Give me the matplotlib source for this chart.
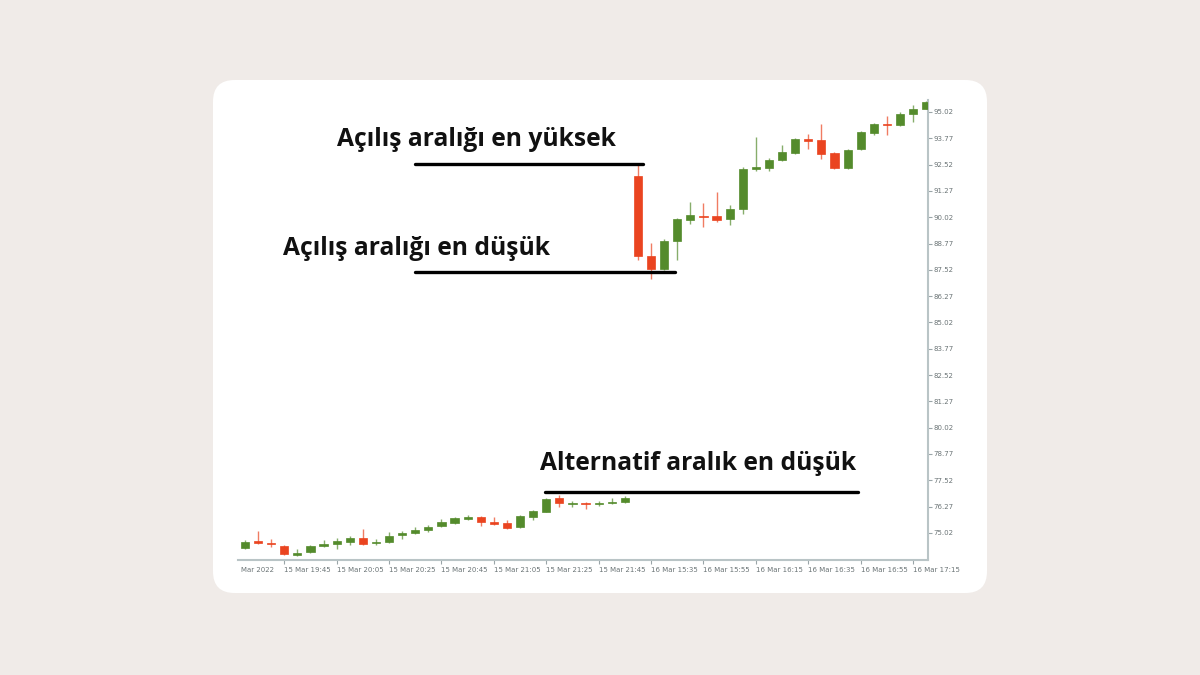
import matplotlib
matplotlib.use("Agg")
import matplotlib.pyplot as plt
from matplotlib.patches import FancyBboxPatch

# OHLC values (one candle per bar, in order)
opens = [74.29, 74.61, 74.52, 74.41, 73.98, 74.09, 74.41, 74.47, 74.60, 74.76,
         74.53, 74.57, 74.92, 75.01, 75.15, 75.36, 75.50, 75.66, 75.76, 75.55,
         75.50, 75.30, 75.76, 75.99, 76.66, 76.39, 76.45, 76.39, 76.42, 76.47,
         91.99, 88.18, 87.56, 88.90, 89.89, 90.09, 90.08, 89.92, 90.40, 92.30,
         92.37, 92.72, 93.09, 93.74, 93.69, 93.06, 92.37, 93.25, 94.01, 94.46,
         94.40, 94.94, 95.16]
highs = [74.68, 75.12, 74.71, 74.43, 74.25, 74.46, 74.68, 74.79, 74.88, 75.19,
         74.71, 75.04, 75.12, 75.31, 75.39, 75.66, 75.79, 75.87, 75.82, 75.79,
         75.63, 75.86, 76.10, 76.69, 76.82, 76.55, 76.50, 76.55, 76.66, 76.77,
         92.50, 88.78, 88.98, 89.98, 90.76, 90.71, 91.20, 90.60, 92.39, 93.85,
         92.82, 93.45, 93.80, 93.96, 94.44, 93.13, 93.28, 94.10, 94.50, 94.84,
         95.03, 95.35, 95.55]
lows = [74.25, 74.51, 74.36, 73.98, 73.93, 74.05, 74.37, 74.25, 74.44, 74.45,
        74.44, 74.52, 74.71, 74.97, 75.08, 75.30, 75.45, 75.61, 75.36, 75.41,
        75.21, 75.27, 75.64, 76.00, 76.23, 76.26, 76.15, 76.31, 76.38, 76.44,
        87.99, 87.08, 87.52, 87.99, 89.70, 89.57, 89.79, 89.65, 90.16, 92.22,
        92.22, 92.68, 93.01, 93.25, 92.79, 92.33, 92.33, 93.21, 93.93, 93.93,
        94.37, 94.53, 95.14]
closes = [74.60, 74.56, 74.47, 74.01, 74.03, 74.41, 74.47, 74.63, 74.77, 74.47,
          74.60, 74.88, 75.00, 75.17, 75.31, 75.55, 75.71, 75.77, 75.55, 75.44,
          75.26, 75.83, 76.07, 76.61, 76.42, 76.45, 76.38, 76.45, 76.47, 76.69,
          88.19, 87.57, 88.89, 89.93, 90.12, 90.03, 89.89, 90.40, 92.30, 92.41,
          92.72, 93.10, 93.72, 93.64, 93.02, 92.37, 93.21, 94.05, 94.44, 94.39,
          94.94, 95.16, 95.48]

y_ticks = [75.02, 76.27, 77.52, 78.77, 80.02, 81.27, 82.52, 83.77, 85.02,
           86.27, 87.52, 88.77, 90.02, 91.27, 92.52, 93.77, 95.02]
x_tick_pos = [3, 7, 11, 15, 19, 23, 27, 31, 35, 39, 43, 47, 51]
x_tick_labels = ["15 Mar 19:45", "15 Mar 20:05", "15 Mar 20:25", "15 Mar 20:45",
                 "15 Mar 21:05", "15 Mar 21:25", "15 Mar 21:45", "16 Mar 15:35",
                 "16 Mar 15:55", "16 Mar 16:15", "16 Mar 16:35", "16 Mar 16:55",
                 "16 Mar 17:15"]

# annotation levels: price, start/end candle, label, text anchor
levels = [92.55, 87.42, 76.96]
level_spans = [(12.98, 30.38), (12.98, 32.82), (22.9, 46.8)]
level_texts = ["Açılış aralığı en yüksek", "Açılış aralığı en düşük",
               "Alternatif aralık en düşük"]
text_anchor = [(7.02, 93.40), (2.9, 88.22), (22.52, 78.0)]

GREEN = "#548b2c"
RED = "#ea4420"
BG = "#f0ebe8"

fig = plt.figure(figsize=(12, 6.75), dpi=100)
fig.patch.set_facecolor(BG)

# white rounded card behind the chart
W, H = 1200, 675
card = FancyBboxPatch((213 / W, 1 - 593 / H), 774 / W, 513 / H,
                      boxstyle="round,pad=0,rounding_size=0.018",
                      transform=fig.transFigure, facecolor="white",
                      edgecolor="none", mutation_aspect=W / H, zorder=-10)
fig.patches.append(card)

ax = fig.add_axes([238 / W, 1 - 560 / H, 690 / W, 460 / H])
ax.set_facecolor("none")

for i in range(len(opens)):
    col = RED if closes[i] < opens[i] else GREEN
    ax.vlines(i, lows[i], highs[i], color=col, linewidth=1.0, alpha=0.7, zorder=2)
    lo = min(opens[i], closes[i])
    h = max(abs(closes[i] - opens[i]), 0.06)
    ax.bar(i, h, bottom=lo, width=0.62, color=col, edgecolor=col,
           linewidth=0.5, zorder=3)

for lvl, (x0, x1), txt, (tx, ty) in zip(levels, level_spans, level_texts, text_anchor):
    ax.plot([x0, x1], [lvl, lvl], color="black", linewidth=2.4,
            solid_capstyle="round", zorder=4, clip_on=False)
    ax.text(tx, ty, txt, fontsize=17.7, fontweight="bold", family="Open Sans",
            color="#111111", va="baseline", ha="left", clip_on=False)

ax.set_xlim(-0.53, 52.14)
ax.set_ylim(73.73, 95.59)

for s in ["left", "top"]:
    ax.spines[s].set_visible(False)
for s in ["right", "bottom"]:
    ax.spines[s].set_color("#b9c4c6")
    ax.spines[s].set_linewidth(1.5)

ax.yaxis.tick_right()
ax.set_yticks(y_ticks)
ax.set_yticklabels([f"{v:.2f}" for v in y_ticks])
ax.tick_params(axis="y", length=3, width=0.8, color="#9aa5a8", pad=1,
               labelsize=5, labelcolor="#6b7476")

ax.set_xticks(x_tick_pos)
ax.set_xticklabels(x_tick_labels, ha="left")
ax.tick_params(axis="x", length=3, width=0.8, color="#9aa5a8", pad=2,
               labelsize=5, labelcolor="#6b7476")
ax.text(0.005, -0.015, "Mar 2022", transform=ax.transAxes, fontsize=5,
        color="#6b7476", va="top", ha="left")

fig.savefig("out.png", dpi=100, facecolor=BG)
